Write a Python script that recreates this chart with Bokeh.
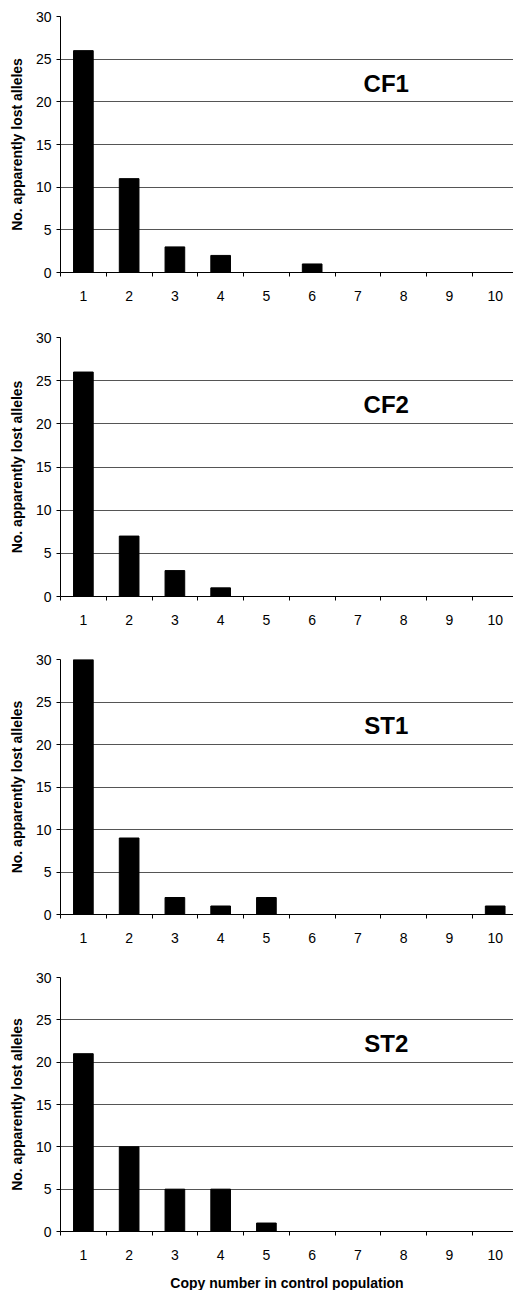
from bokeh.plotting import figure
from bokeh.layouts import column
from bokeh.models import FixedTicker, Label, Range1d
from bokeh.embed import file_html
from bokeh.resources import INLINE

copy_numbers = [1, 2, 3, 4, 5, 6, 7, 8, 9, 10]
cf1 = [26, 11, 3, 2, 0, 1, 0, 0, 0, 0]
cf2 = [26, 7, 3, 1, 0, 0, 0, 0, 0, 0]
st1 = [30, 9, 2, 1, 2, 0, 0, 0, 0, 1]
st2 = [21, 10, 5, 5, 1, 0, 0, 0, 0, 0]
panel_names = ["CF1", "CF2", "ST1", "ST2"]
y_ticks = [0, 5, 10, 15, 20, 25, 30]
x_title = "Copy number in control population"
y_title = "No. apparently lost alleles"

series = [cf1, cf2, st1, st2]
frame_heights = [256, 259, 255, 254]
tops = [16, 8, 8, 8]
bottoms = [57, 55, 55, 58]
FONT = "Liberation Sans"

boundaries = [c - 0.5 for c in copy_numbers] + [copy_numbers[-1] + 0.5]

figs = []
for i, (vals, name) in enumerate(zip(series, panel_names)):
    last = i == len(series) - 1
    p = figure(frame_width=453, frame_height=frame_heights[i],
               x_range=Range1d(0.5, 10.4), y_range=Range1d(0, 30),
               output_backend="svg", toolbar_location=None,
               min_border_left=60, min_border_right=0,
               min_border_top=tops[i], min_border_bottom=bottoms[i])
    p.outline_line_color = None
    p.background_fill_color = "white"
    p.border_fill_color = "white"

    p.vbar(x=copy_numbers, top=vals, width=0.43, bottom=0,
           fill_color="black", line_color="black")

    # x axis
    p.xaxis.ticker = FixedTicker(ticks=copy_numbers, minor_ticks=boundaries)
    p.xaxis.major_tick_out = 0
    p.xaxis.major_tick_in = 0
    p.xaxis.minor_tick_out = 4
    p.xaxis.minor_tick_in = 0
    p.xaxis.minor_tick_line_color = "black"
    p.xaxis.axis_line_color = "black"
    p.xaxis.major_label_standoff = 14
    p.xaxis.major_label_text_font = FONT
    p.xaxis.major_label_text_font_size = "14px"
    p.xaxis.major_label_text_color = "black"
    if last:
        p.xaxis.axis_label = x_title
        p.xaxis.axis_label_text_font = FONT
        p.xaxis.axis_label_text_font_size = "14px"
        p.xaxis.axis_label_text_font_style = "bold"
        p.xaxis.axis_label_text_color = "black"
        p.xaxis.axis_label_standoff = 12

    # y axis
    p.yaxis.ticker = FixedTicker(ticks=y_ticks)
    p.yaxis.minor_tick_line_color = None
    p.yaxis.major_tick_out = 4
    p.yaxis.major_tick_in = 0
    p.yaxis.axis_line_color = "black"
    p.yaxis.major_tick_line_color = "black"
    p.yaxis.major_label_standoff = 5
    p.yaxis.major_label_text_font = FONT
    p.yaxis.major_label_text_font_size = "14px"
    p.yaxis.major_label_text_color = "black"
    p.yaxis.axis_label = y_title
    p.yaxis.axis_label_text_font = FONT
    p.yaxis.axis_label_text_font_size = "14px"
    p.yaxis.axis_label_text_font_style = "bold"
    p.yaxis.axis_label_text_color = "black"
    p.yaxis.axis_label_standoff = 8

    p.xgrid.visible = False
    p.ygrid.ticker = FixedTicker(ticks=y_ticks)
    p.ygrid.grid_line_color = "#555555"
    p.ygrid.grid_line_width = 1

    p.add_layout(Label(x=7.62, y=22.2, text=name, text_font=FONT,
                       text_font_size="24px", text_font_style="bold",
                       text_align="center", text_baseline="middle",
                       text_color="black"))
    figs.append(p)

layout = column(*figs, spacing=0)
open("out.html", "w").write(file_html(layout, INLINE))
